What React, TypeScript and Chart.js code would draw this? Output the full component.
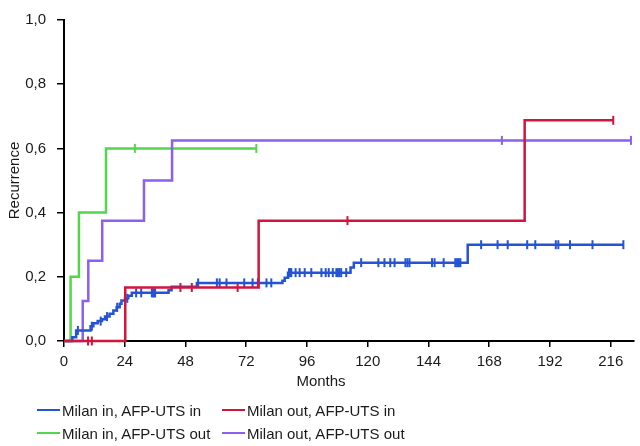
import React, { useEffect, useRef } from 'react';
import { Chart, registerables } from 'chart.js';

Chart.register(...registerables);

// ---- Axis ticks ----
const X_TICKS = [0, 24, 48, 72, 96, 120, 144, 168, 192, 216];
const Y_TICKS = [0, 0.2, 0.4, 0.6, 0.8, 1.0];
const X_MAX = 225;

// ---- Milan in, AFP-UTS in (blue) ----
const BLUE_T = [0, 3.3, 4.8, 10.5, 11.6, 13.3, 15.0, 16.2, 18.0, 19.5, 20.8, 22.0, 22.7, 24.1, 25.4, 26.8, 41.3, 42.5, 52.5, 86.3, 87.2, 88.5, 113.2, 114.5, 159.5];
const BLUE_S = [0, 0.012, 0.033, 0.046, 0.055, 0.062, 0.068, 0.076, 0.085, 0.095, 0.105, 0.116, 0.126, 0.133, 0.141, 0.150, 0.158, 0.169, 0.181, 0.188, 0.197, 0.213, 0.229, 0.244, 0.300];
const BLUE_END = 221;
const BLUE_CENSOR = [5.5, 11.0, 14.5, 17.0, 21.0, 25.0, 28.5, 30.5, 34.7, 35.2, 35.6, 36.0, 53, 60.4, 61.5, 64.2, 71.2, 74.5, 76.6, 80, 81.9, 88.9, 89.3, 89.8, 91.5, 93.1, 95.1, 97.7, 101.7, 103.4, 104.6, 106.2, 107.6, 108.2, 108.8, 109.5, 111.5, 117.4, 124.2, 126.6, 128.9, 130.6, 134.9, 135.7, 136.5, 145.4, 146.4, 150, 154.6, 155.3, 156.0, 156.6, 164.8, 171.3, 175.3, 183, 186.2, 194.3, 195.3, 199.9, 208.8];

// ---- Milan out, AFP-UTS in (red) ----
const RED_T = [0, 24.2, 76.9, 182.0];
const RED_S = [0, 0.1667, 0.375, 0.6875];
const RED_END = 217;
const RED_CENSOR = [9.5, 11.0, 46, 50.5, 68.6, 112];

// ---- Milan in, AFP-UTS out (green) ----
const GREEN_T = [0, 2.6, 5.9, 16.6];
const GREEN_S = [0, 0.2, 0.4, 0.6];
const GREEN_END = 76;
const GREEN_CENSOR = [28];

// ---- Milan out, AFP-UTS out (purple) ----
const PURPLE_T = [0, 7.4, 9.6, 15.1, 31.6, 42.7];
const PURPLE_S = [0, 0.125, 0.25, 0.375, 0.5, 0.625];
const PURPLE_END = 224;
const PURPLE_CENSOR = [173];

const LABELS = ['Milan in, AFP-UTS in', 'Milan out, AFP-UTS in', 'Milan in, AFP-UTS out', 'Milan out, AFP-UTS out'];
const COLORS = ['#2453d6', '#d3143c', '#52d64c', '#8b5ff0'];
const X_TITLE = 'Months';
const Y_TITLE = 'Recurrence';

const FONT = '"Liberation Sans", Arial, Helvetica, sans-serif';
const TEXT = '#1a1a1a';

function valueAt(T: number[], S: number[], t: number) {
  let v = S[0];
  for (let i = 0; i < T.length; i++) if (T[i] <= t) v = S[i];
  return v;
}
function curve(T: number[], S: number[], end: number) {
  return [...T.map((t, i) => ({ x: t, y: S[i] })), { x: end, y: S[S.length - 1] }];
}
function marks(T: number[], S: number[], C: number[], end: number) {
  return [...C, end].map((t) => ({ x: t, y: valueAt(T, S, t) }));
}

const SERIES = [
  { T: BLUE_T, S: BLUE_S, end: BLUE_END, c: BLUE_CENSOR },
  { T: RED_T, S: RED_S, end: RED_END, c: RED_CENSOR },
  { T: GREEN_T, S: GREEN_S, end: GREEN_END, c: GREEN_CENSOR },
  { T: PURPLE_T, S: PURPLE_S, end: PURPLE_END, c: PURPLE_CENSOR },
];

export default function App() {
  const ref = useRef<HTMLCanvasElement>(null);

  useEffect(() => {
    if (!ref.current) return;
    const datasets: any[] = [];
    const drawOrder = [1, 0, 3, 2];
    drawOrder.forEach((i, k) => {
      const s = SERIES[i];
      datasets.push({
        label: LABELS[i],
        data: curve(s.T, s.S, s.end),
        borderColor: COLORS[i],
        backgroundColor: COLORS[i],
        borderWidth: 2.5,
        pointRadius: 0,
        stepped: 'before',
        fill: false,
        clip: false,
        order: k * 2 + 1,
      });
      datasets.push({
        label: LABELS[i] + ' censored',
        data: marks(s.T, s.S, s.c, s.end),
        borderColor: COLORS[i],
        backgroundColor: COLORS[i],
        showLine: false,
        pointStyle: 'line',
        rotation: 90,
        pointRadius: 4.5,
        pointBorderWidth: 2,
        clip: false,
        order: k * 2,
      });
    });

    const chart = new Chart(ref.current, {
      type: 'line',
      data: { datasets },
      options: {
        animation: false,
        responsive: false,
        devicePixelRatio: 1,
        layout: { padding: { left: 0, right: 6, top: 15, bottom: 55 } },
        plugins: { legend: { display: false }, tooltip: { enabled: false } },
        scales: {
          x: {
            type: 'linear',
            min: 0,
            max: X_MAX,
            afterFit: (s: any) => { s.height = 50; },
            afterBuildTicks: (s: any) => { s.ticks = X_TICKS.map((v) => ({ value: v })); },
            ticks: { color: TEXT, font: { family: FONT, size: 15 }, padding: 6, maxRotation: 0, autoSkip: false },
            grid: { drawOnChartArea: false, drawTicks: true, tickLength: 6, color: '#000', lineWidth: 1.5 },
            border: { display: true, color: '#000', width: 2 },
            title: { display: false },
          },
          y: {
            type: 'linear',
            min: 0,
            max: 1,
            afterFit: (s: any) => { s.width = 64; },
            afterBuildTicks: (s: any) => { s.ticks = Y_TICKS.map((v) => ({ value: v })); },
            ticks: {
              color: TEXT,
              font: { family: FONT, size: 15 },
              padding: 11,
              callback: (v: any) => Number(v).toFixed(1).replace('.', ','),
            },
            grid: { drawOnChartArea: false, drawTicks: true, tickLength: 7, color: '#000', lineWidth: 1.5 },
            border: { display: true, color: '#000', width: 2 },
            title: { display: true, text: Y_TITLE, color: TEXT, font: { family: FONT, size: 15 }, padding: { top: 6, bottom: 0 } },
          },
        },
      },
    });
    return () => chart.destroy();
  }, []);

  const legendPos = [
    { left: 37, top: 410 },
    { left: 222, top: 410 },
    { left: 37, top: 433 },
    { left: 222, top: 433 },
  ];

  return (
    <div style={{ position: 'absolute', left: 0, top: 0, width: 640, height: 446, background: '#fff', overflow: 'hidden' }}>
      <canvas ref={ref} width={640} height={446} style={{ display: 'block', width: 640, height: 446 }} />
      <div
        style={{
          position: 'absolute',
          left: 221,
          width: 200,
          top: 372,
          height: 18,
          lineHeight: '18px',
          textAlign: 'center',
          fontFamily: FONT,
          fontSize: 15,
          color: TEXT,
        }}
      >
        {X_TITLE}
      </div>
      {legendPos.map((p, i) => (
        <div
          key={i}
          style={{
            position: 'absolute',
            left: p.left,
            top: p.top - 9,
            height: 18,
            display: 'flex',
            alignItems: 'center',
            fontFamily: FONT,
            fontSize: 15,
            color: TEXT,
            whiteSpace: 'nowrap',
          }}
        >
          <span style={{ display: 'inline-block', width: 23, height: 2.5, background: COLORS[i], marginRight: 2 }} />
          <span>{LABELS[i]}</span>
        </div>
      ))}
    </div>
  );
}
